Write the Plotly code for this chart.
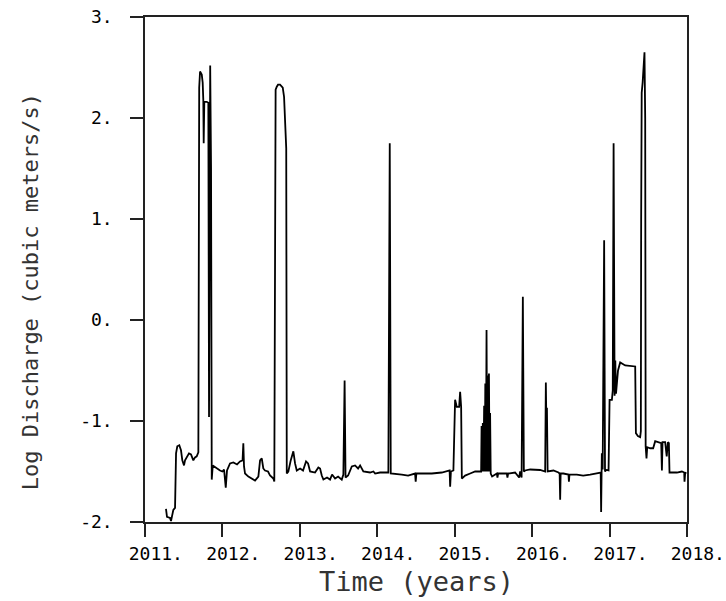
import plotly.graph_objects as go

# Time in decimal years, log10 discharge (cubic meters/s)
years = [
    2011.271, 2011.284, 2011.323, 2011.336, 2011.366, 2011.388, 2011.401, 2011.417, 2011.443, 2011.465,
    2011.482, 2011.504, 2011.517, 2011.543, 2011.568, 2011.594, 2011.624, 2011.646, 2011.668, 2011.689,
    2011.700, 2011.711, 2011.733, 2011.745, 2011.753, 2011.758, 2011.766, 2011.797, 2011.818, 2011.827,
    2011.836, 2011.842, 2011.853, 2011.862, 2011.875, 2011.926, 2011.969, 2011.999, 2012.021, 2012.043,
    2012.059, 2012.098, 2012.141, 2012.189, 2012.227, 2012.260, 2012.270, 2012.279, 2012.292, 2012.335,
    2012.382, 2012.421, 2012.464, 2012.486, 2012.508, 2012.528, 2012.550, 2012.589, 2012.615, 2012.658,
    2012.670, 2012.680, 2012.687, 2012.702, 2012.718, 2012.744, 2012.779, 2012.796, 2012.813, 2012.824,
    2012.831, 2012.851, 2012.882, 2012.916, 2012.938, 2012.960, 2013.003, 2013.041, 2013.080, 2013.106,
    2013.132, 2013.196, 2013.239, 2013.261, 2013.283, 2013.304, 2013.351, 2013.390, 2013.416, 2013.455,
    2013.494, 2013.541, 2013.562, 2013.578, 2013.590, 2013.623, 2013.671, 2013.713, 2013.752, 2013.778,
    2013.820, 2013.907, 2013.950, 2013.972, 2014.036, 2014.143, 2014.161, 2014.174, 2014.317, 2014.398,
    2014.488, 2014.496, 2014.505, 2014.618, 2014.704, 2014.833, 2014.934, 2014.941, 2014.951, 2014.983,
    2015.005, 2015.027, 2015.057, 2015.070, 2015.083, 2015.092, 2015.134, 2015.199, 2015.264, 2015.328,
    2015.341, 2015.347, 2015.354, 2015.363, 2015.371, 2015.380, 2015.388, 2015.395, 2015.403, 2015.411,
    2015.419, 2015.426, 2015.434, 2015.442, 2015.450, 2015.457, 2015.465, 2015.483, 2015.544, 2015.552,
    2015.561, 2015.673, 2015.681, 2015.690, 2015.780, 2015.832, 2015.845, 2015.864, 2015.880, 2015.893,
    2015.910, 2015.974, 2016.103, 2016.168, 2016.177, 2016.185, 2016.191, 2016.200, 2016.275, 2016.340,
    2016.355, 2016.362, 2016.368, 2016.404, 2016.469, 2016.475, 2016.482, 2016.577, 2016.659, 2016.749,
    2016.814, 2016.857, 2016.885, 2016.891, 2016.900, 2016.911, 2016.930, 2016.941, 2016.958, 2016.987,
    2017.000, 2017.030, 2017.041, 2017.052, 2017.065, 2017.074, 2017.083, 2017.109, 2017.124, 2017.137,
    2017.202, 2017.288, 2017.331, 2017.340, 2017.366, 2017.395, 2017.404, 2017.408, 2017.415, 2017.427,
    2017.440, 2017.451, 2017.460, 2017.466, 2017.477, 2017.486, 2017.525, 2017.563, 2017.589, 2017.628,
    2017.667, 2017.676, 2017.684, 2017.718, 2017.738, 2017.753, 2017.766, 2017.774, 2017.804, 2017.869,
    2017.934, 2017.964, 2017.968, 2017.977, 2017.990,
]
log_discharge = [
    -1.87, -1.95, -1.96, -1.99, -1.88, -1.86, -1.32, -1.25, -1.24, -1.29,
    -1.39, -1.44, -1.39, -1.36, -1.32, -1.33, -1.39, -1.36, -1.35, -1.31,
    2.30, 2.46, 2.43, 2.35, 2.18, 1.75, 2.16, 2.16, 2.15, -0.96,
    2.00, 2.52, 1.50, -1.58, -1.44, -1.47, -1.49, -1.50, -1.48, -1.66,
    -1.49, -1.42, -1.41, -1.43, -1.40, -1.39, -1.22, -1.45, -1.52, -1.55,
    -1.57, -1.59, -1.55, -1.39, -1.37, -1.47, -1.49, -1.50, -1.54, -1.57,
    -1.60, 1.50, 2.28, 2.31, 2.33, 2.33, 2.30, 2.21, 1.75, 1.70,
    -1.52, -1.50, -1.39, -1.30, -1.42, -1.49, -1.47, -1.49, -1.40, -1.42,
    -1.50, -1.51, -1.46, -1.47, -1.54, -1.58, -1.56, -1.58, -1.53, -1.57,
    -1.55, -1.58, -1.53, -0.60, -1.56, -1.54, -1.45, -1.44, -1.47, -1.44,
    -1.50, -1.51, -1.50, -1.52, -1.51, -1.51, 1.75, -1.52, -1.53, -1.54,
    -1.52, -1.60, -1.52, -1.52, -1.52, -1.51, -1.49, -1.65, -1.50, -1.49,
    -0.79, -0.86, -0.86, -0.71, -0.86, -1.57, -1.54, -1.52, -1.50, -1.50,
    -1.50, -1.05, -1.50, -1.02, -1.50, -0.85, -1.50, -0.63, -1.50, -0.10,
    -1.50, -0.55, -1.50, -0.53, -1.50, -0.92, -1.52, -1.55, -1.52, -1.56,
    -1.52, -1.52, -1.56, -1.52, -1.51, -1.56, -1.50, -1.56, 0.23, -1.50,
    -1.49, -1.48, -1.485, -1.50, -0.62, -1.10, -0.87, -1.50, -1.49, -1.51,
    -1.52, -1.78, -1.52, -1.52, -1.53, -1.60, -1.53, -1.53, -1.54, -1.53,
    -1.52, -1.51, -1.51, -1.90, -1.32, -1.48, 0.79, -1.50, -1.485, -1.49,
    -0.79, -0.79, -0.70, 1.75, -0.75, -0.40, -0.73, -0.50, -0.45, -0.42,
    -0.45, -0.46, -0.46, -1.12, -1.15, -1.16, -1.10, 1.00, 2.25, 2.35,
    2.55, 2.65, 2.00, -1.25, -1.37, -1.26, -1.27, -1.27, -1.20, -1.21,
    -1.22, -1.49, -1.21, -1.21, -1.35, -1.21, -1.22, -1.51, -1.51, -1.51,
    -1.50, -1.51, -1.60, -1.51, -1.52,
]

x_ticks = [2011, 2012, 2013, 2014, 2015, 2016, 2017, 2018]
x_tick_labels = ["2011.", "2012.", "2013.", "2014.", "2015.", "2016.", "2017.", "2018."]
y_ticks = [3, 2, 1, 0, -1, -2]
y_tick_labels = ["3.", "2.", "1.", "0.", "-1.", "-2."]

FONT = "DejaVu Sans Mono"
AXCOL = "#222222"

fig = go.Figure()
fig.add_trace(go.Scatter(
    x=years, y=log_discharge, mode="lines",
    line=dict(color="black", width=1.8),
    showlegend=False, hoverinfo="skip",
))

fig.update_layout(
    width=726, height=601,
    margin=dict(l=145, r=39, t=17, b=79, autoexpand=False),
    paper_bgcolor="white", plot_bgcolor="white",
    font=dict(family=FONT, size=18, color="black"),
    xaxis=dict(
        range=[2011, 2018], tickmode="array", tickvals=x_ticks,
        ticktext=["\u00a0\u00a0" + t for t in x_tick_labels],
        ticks="outside", ticklen=13, tickwidth=1.5, tickcolor=AXCOL,
        showline=True, linecolor=AXCOL, linewidth=1.5, mirror=True,
        showgrid=False, zeroline=False, automargin=False, tickangle=0,
        tickfont=dict(family=FONT, size=18, color="black"),
        ticklabelstandoff=2,
    ),
    yaxis=dict(
        range=[-2, 3], tickmode="array", tickvals=y_ticks, ticktext=y_tick_labels,
        ticks="outside", ticklen=13, tickwidth=1.5, tickcolor=AXCOL,
        showline=True, linecolor=AXCOL, linewidth=1.5, mirror=True,
        showgrid=False, zeroline=False, automargin=False,
        tickfont=dict(family=FONT, size=18, color="black"),
        ticklabelstandoff=14,
    ),
    annotations=[
        dict(text="Time (years)", xref="paper", yref="paper", x=0.5, y=-0.117,
             xanchor="center", yanchor="middle", showarrow=False,
             font=dict(family=FONT, size=27, color="#333333")),
        dict(text="Log Discharge (cubic meters/s)", xref="paper", yref="paper",
             x=-0.212, y=0.455, xanchor="center", yanchor="middle", textangle=-90,
             showarrow=False, font=dict(family=FONT, size=22, color="#333333")),
    ],
)

fig.write_html(
    "out.html",
    config={"displayModeBar": False},
    post_script="document.body.style.margin='0px';document.body.style.padding='0px';",
)
